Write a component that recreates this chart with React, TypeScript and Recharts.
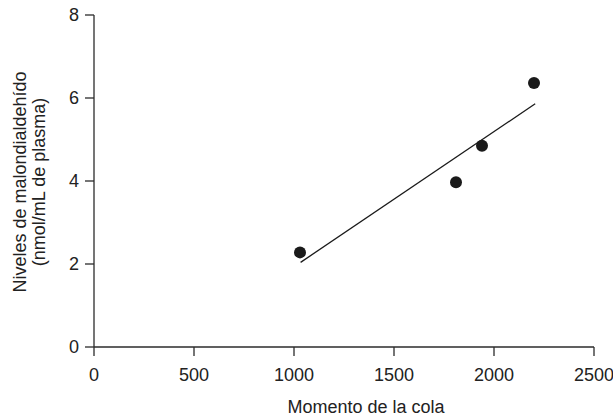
import React from "react";
import {
  ScatterChart,
  Scatter,
  XAxis,
  YAxis,
  Label,
} from "recharts";

// valores
const momentoCola = [1030, 1810, 1940, 2200];
const malondialdehido = [2.28, 3.97, 4.85, 6.36];

// recta de regresión (extremos)
const rectaX = [1033, 2206];
const rectaY = [2.04, 5.86];

const xTicks = [0, 500, 1000, 1500, 2000, 2500];
const yTicks = [0, 2, 4, 6, 8];

const puntos = momentoCola.map((x, i) => ({ x, y: malondialdehido[i] }));
const recta = rectaX.map((x, i) => ({ x, y: rectaY[i] }));

const FONT = "'Liberation Sans', Arial, Helvetica, sans-serif";
const TEXT = "#222";
const AXIS = "#2b2b2b";

const renderXLabel = (props: any) => {
  const vb = props.viewBox || {};
  const cx = vb.x + vb.width / 2 + 22;
  return (
    <text
      x={cx}
      y={vb.y + 66}
      textAnchor="middle"
      fontFamily={FONT}
      fontSize={18}
      fill={TEXT}
    >
      Momento de la cola
    </text>
  );
};

const renderYLabel = (props: any) => {
  const vb = props.viewBox || {};
  const cy = vb.y + vb.height / 2 + 1;
  return (
    <g transform={`translate(0, ${cy}) rotate(-90)`}>
      <text x={0} y={26} textAnchor="middle" fontFamily={FONT} fontSize={18} fill={TEXT}>
        Niveles de malondialdehído
      </text>
      <text x={0} y={45} textAnchor="middle" fontFamily={FONT} fontSize={18} fill={TEXT}>
        (nmol/mL de plasma)
      </text>
    </g>
  );
};

const App: React.FC = () => {
  return (
    <div style={{ position: "absolute", left: 0, top: 0, background: "#fff" }}>
      <ScatterChart
        width={613}
        height={416}
        margin={{ top: 15, right: 19, left: 0, bottom: 29 }}
      >
        <XAxis
          type="number"
          dataKey="x"
          domain={[0, 2500]}
          ticks={xTicks}
          height={40}
          tickSize={9}
          tickMargin={12}
          axisLine={{ stroke: AXIS, strokeWidth: 1.3 }}
          tickLine={{ stroke: AXIS, strokeWidth: 1.3 }}
          tick={{ fill: TEXT, fontSize: 18, fontFamily: FONT }}
          interval={0}
        >
          <Label content={renderXLabel} />
        </XAxis>
        <YAxis
          type="number"
          dataKey="y"
          domain={[0, 8]}
          ticks={yTicks}
          width={94}
          tickSize={9}
          tickMargin={6}
          axisLine={{ stroke: AXIS, strokeWidth: 1.3 }}
          tickLine={{ stroke: AXIS, strokeWidth: 1.3 }}
          tick={{ fill: TEXT, fontSize: 18, fontFamily: FONT }}
          interval={0}
        >
          <Label content={renderYLabel} />
        </YAxis>
        <Scatter
          data={recta}
          line={{ stroke: "#1a1a1a", strokeWidth: 1.3 }}
          shape={() => <g />}
          isAnimationActive={false}
        />
        <Scatter
          data={puntos}
          fill="#1a1a1a"
          shape={(p: any) => <circle cx={p.cx} cy={p.cy} r={6} fill="#1a1a1a" />}
          isAnimationActive={false}
        />
      </ScatterChart>
    </div>
  );
};

export default App;
